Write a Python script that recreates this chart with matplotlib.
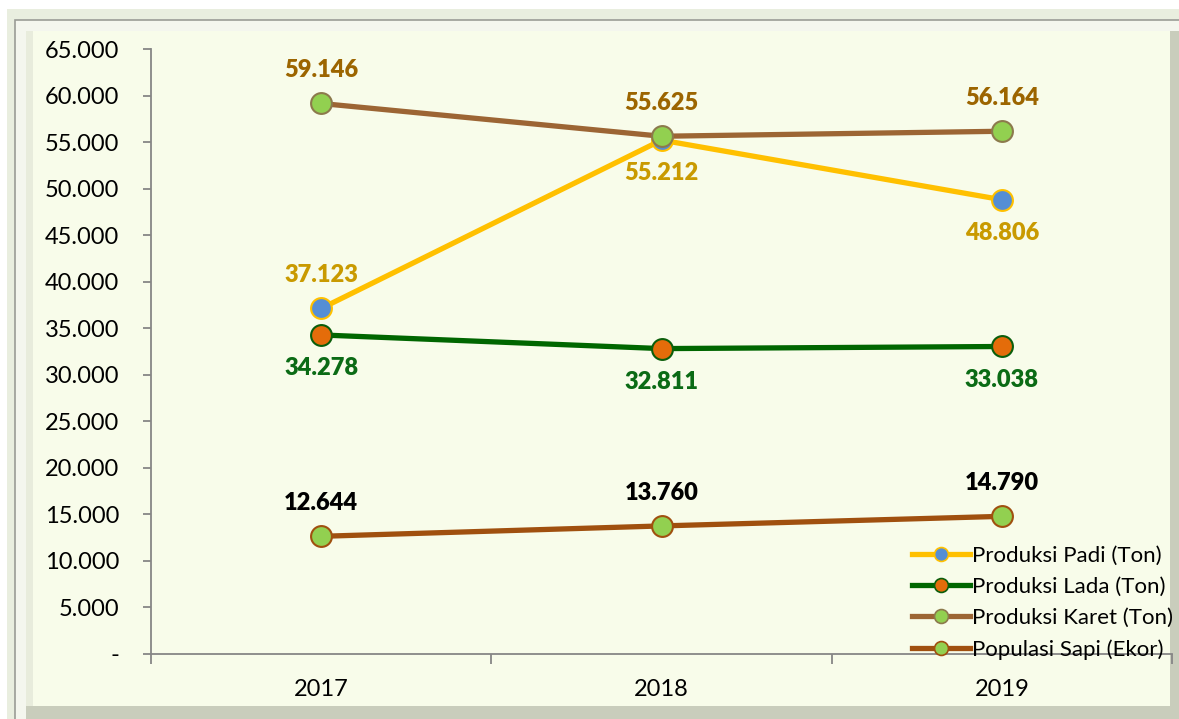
import matplotlib.pyplot as plt
from matplotlib.patches import Rectangle
from matplotlib.ticker import FuncFormatter, FixedLocator
from matplotlib.lines import Line2D

plt.rcParams['font.family'] = ['Lato', 'DejaVu Sans']

years = ['2017', '2018', '2019']
padi = [37123, 55212, 48806]
lada = [34278, 32811, 33038]
karet = [59146, 55625, 56164]
sapi = [12644, 13760, 14790]

names = ['Produksi Padi (Ton)', 'Produksi Lada (Ton)',
         'Produksi Karet (Ton)', 'Populasi Sapi (Ekor)']

W, H = 1179, 719
fig = plt.figure(figsize=(W / 100, H / 100), dpi=100, facecolor='white')

def px_rect(x0, y0, x1, y1, **kw):
    fig.patches.append(Rectangle((x0 / W, 1 - y1 / H), (x1 - x0) / W, (y1 - y0) / H,
                                 transform=fig.transFigure, figure=fig, zorder=-10, **kw))

# frame around the chart
px_rect(7, 9, W, H, facecolor='#E9EEDF', edgecolor='none')
px_rect(15, 20, W + 5, H + 5, facecolor='#F4F6EE', edgecolor='#9A9C96', linewidth=1.2)
px_rect(26, 31, W, H, facecolor='#C9CDBC', edgecolor='none')
px_rect(26, 31, 1170, 706, facecolor='#F8FCEA', edgecolor='none')
px_rect(26, 31, 33, 706, facecolor='#E8ECDC', edgecolor='none')

ax = fig.add_axes([151 / W, 1 - 654 / H, (1172 - 151) / W, (654 - 49) / H])
ax.set_facecolor('none')
ax.set_zorder(2)

x = [0.5, 1.5, 2.5]
series = [
    (padi, '#FFC000', '#558ED5', '#FFC000', '#C99A00', [24, -24, -24]),
    (lada, '#006600', '#E46C0A', '#0B5E0B', '#0B6B15', [-24, -24, -24]),
    (karet, '#9C6534', '#92D050', '#8C7A4C', '#9C6500', [24, 24, 24]),
    (sapi, '#A0500F', '#92D050', '#A0500F', '#000000', [24, 24, 24]),
]

handles = []
for (vals, lc, mfc, mec, tc, offs), name in zip(series, names):
    ax.plot(x, vals, color=lc, lw=3.8, marker='o', ms=15, mfc=mfc, mec=mec,
            mew=1.5, zorder=3, solid_capstyle='round')
    for xi, v, o in zip(x, vals, offs):
        ax.annotate(f'{v:,}'.replace(',', '.'), (xi, v), xytext=(0, o),
                    textcoords='offset points', ha='center', va='center',
                    fontsize=17, fontweight=800, color=tc, zorder=4)
    handles.append(Line2D([], [], color=lc, lw=3.8, marker='o', ms=10,
                          mfc=mfc, mec=mec, mew=1.2))

ax.set_xlim(0, 3)
ax.set_ylim(0, 65000)
ax.set_yticks(range(0, 65001, 5000))
ax.yaxis.set_major_formatter(FuncFormatter(
    lambda v, p: '-' if v == 0 else f'{v:,.0f}'.replace(',', '.')))
ax.xaxis.set_major_locator(FixedLocator([0, 1, 2, 3]))
ax.xaxis.set_major_formatter(FuncFormatter(lambda v, p: ''))
ax.set_xticks(x, minor=True)
ax.set_xticklabels(years, minor=True)
ax.tick_params(axis='x', which='minor', length=0, pad=18, labelsize=17)
ax.tick_params(axis='x', which='major', length=7, width=1.3, color='#868686', direction='out')
ax.tick_params(axis='y', length=6, width=1.3, color='#868686', labelsize=17, pad=17)

for s in ['top', 'right']:
    ax.spines[s].set_visible(False)
for s in ['left', 'bottom']:
    ax.spines[s].set_color('#868686')
    ax.spines[s].set_linewidth(1.3)

leg = ax.legend(handles, names, loc='lower right', bbox_to_anchor=(1.016, -0.035),
                frameon=False, fontsize=16, handlelength=2.6, handletextpad=0.1,
                labelspacing=0.5, borderpad=0.2)
leg.set_zorder(5)

fig.savefig('out.png', dpi=100, facecolor=fig.get_facecolor())
